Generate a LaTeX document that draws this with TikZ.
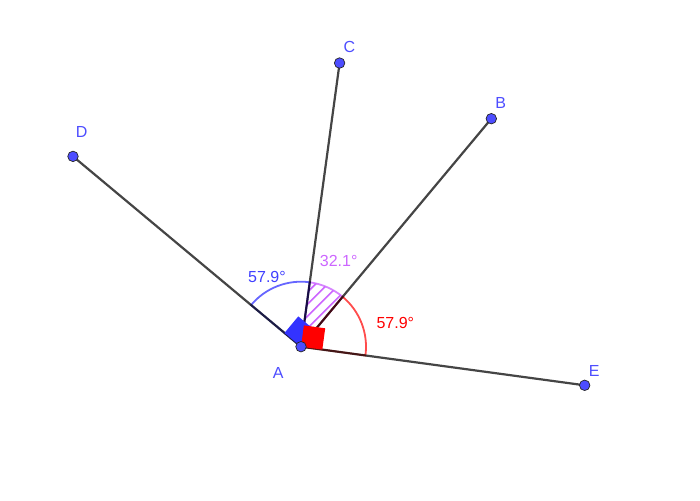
\documentclass[tikz,border=0pt]{standalone}
\usepackage{fontspec}
\setmainfont{Liberation Sans}
\usepackage{tikz}
\usetikzlibrary{calc}
\definecolor{ptblue}{RGB}{77, 77, 255}
\definecolor{purp}{RGB}{204, 102, 255}

\tikzset{
  pt/.style={circle, fill=ptblue, draw=black!85, line width=0.7pt, inner sep=0pt, minimum size=10.5pt},
  seg/.style={black, draw opacity=0.73, line width=2.2pt},
  lbl/.style={text=ptblue, font=\fontsize{16}{19}\selectfont, inner sep=0pt},
  anglbl/.style={font=\fontsize{16}{19}\selectfont, inner sep=0pt}
}

\begin{document}
\begin{tikzpicture}[x=1pt, y=1pt]
  \useasboundingbox (0, 0) rectangle (700, 500);

  \coordinate (A) at (301, 153.3);
  \coordinate (B) at ($(A)+(50.15:297)$);
  \coordinate (C) at ($(A)+(82.25:286.3)$);
  \coordinate (D) at ($(A)+(140.15:297)$);
  \coordinate (E) at ($(A)+(-7.75:286.3)$);

  % hatched angle BAC
  \begin{scope}
    \clip (A) -- ++(50.15:65) arc[start angle=50.15, end angle=82.25, radius=65pt] -- cycle;
    \begin{scope}[shift={(A)}, rotate=45]
      \foreach \k in {-10,...,10}
        \draw[purp, line width=1.6pt] (-100, \k*8.5) -- (100, \k*8.5);
    \end{scope}
  \end{scope}
  \draw[purp, line width=1.8pt, draw opacity=0.8] (A) -- ++(50.15:65)
       arc[start angle=50.15, end angle=82.25, radius=65pt] -- cycle;

  % angle CAD and angle EAB
  \draw[blue, line width=1.8pt, draw opacity=0.6] (A) -- ++(82.25:65)
       arc[start angle=82.25, end angle=140.15, radius=65pt] -- cycle;
  \draw[red, line width=1.8pt, draw opacity=0.7] (A) -- ++(-7.75:65)
       arc[start angle=-7.75, end angle=50.15, radius=65pt] -- cycle;

  \draw[seg] (A) -- (B);
  \draw[seg] (A) -- (C);
  \draw[seg] (A) -- (D);
  \draw[seg] (A) -- (E);

  % right angles DAB and EAC
  \fill[blue!80!white] (A) -- ++(140.15:21.5) -- ++(50.15:21.5) -- ++(-39.85:21.5) -- cycle;
  \fill[red] (A) -- ++(-7.75:21.5) -- ++(82.25:21.5) -- ++(172.25:21.5) -- cycle;

  \node[pt] (pA) at (A) {};
  \node[pt] (pB) at (B) {};
  \node[pt] (pC) at (C) {};
  \node[pt] (pD) at (D) {};
  \node[pt] (pE) at (E) {};

  \node[lbl] (lA) at (278.3, 126.7) {A};
  \node[lbl] (lB) at (500.7, 396.7) {B};
  \node[lbl] (lC) at (349.3, 452.7) {C};
  \node[lbl] (lD) at (81.7, 367.7) {D};
  \node[lbl] (lE) at (594.3, 129) {E};

  \node[anglbl, text=blue!75!white] (aCAD) at (267, 223) {57.9°};
  \node[anglbl, text=purp] (aBAC) at (338.7, 239) {32.1°};
  \node[anglbl, text=red] (aEAB) at (395.3, 177.5) {57.9°};
\end{tikzpicture}
\end{document}
